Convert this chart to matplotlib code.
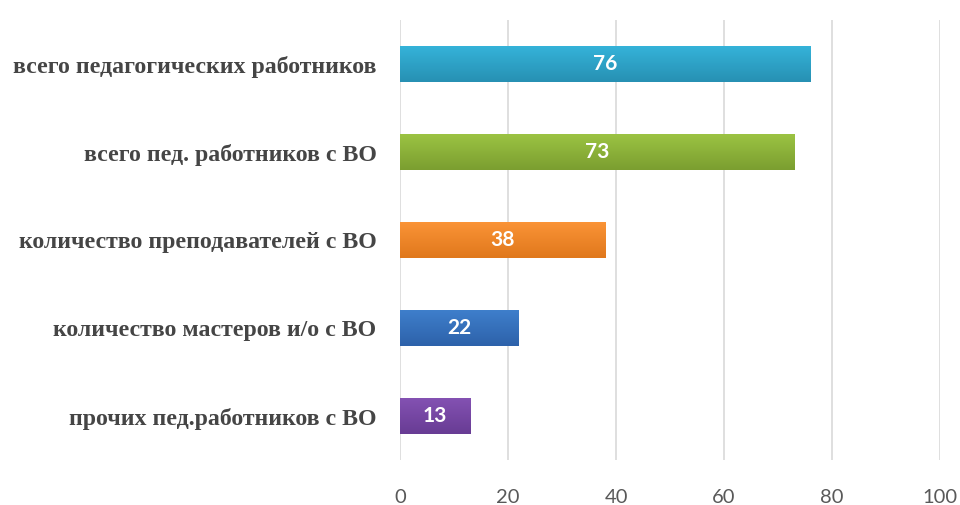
import numpy as np
import matplotlib
matplotlib.use('Agg')
import matplotlib.pyplot as plt
from matplotlib.colors import LinearSegmentedColormap

categories = ['всего педагогических работников',
              'всего пед. работников с ВО',
              'количество преподавателей с ВО',
              'количество мастеров и/о с ВО',
              'прочих пед.работников с ВО']
values = [76, 73, 38, 22, 13]
colors_top = ['#35b4da', '#9cc443', '#fb9437', '#3f7fcc', '#8452b3']
colors_bot = ['#2790b3', '#7b9e30', '#e0781c', '#2d62aa', '#683c94']
xticks = [0, 20, 40, 60, 80, 100]

fig = plt.figure(figsize=(9.6, 5.05), dpi=100)
ax = fig.add_axes([0.4167, 0.089, 0.5625, 0.871])

y = np.arange(len(categories))
h = 0.41
bars = ax.barh(y, values, height=h, color=colors_top, zorder=3)

# vertical gradient on each bar
grad = np.linspace(0, 1, 64).reshape(-1, 1)
for b, c1, c2 in zip(bars, colors_top, colors_bot):
    cmap = LinearSegmentedColormap.from_list('g', [c1, c2])
    x0, y0 = b.get_x(), b.get_y()
    im = ax.imshow(grad, cmap=cmap, aspect='auto', zorder=4,
                   extent=[x0, x0 + b.get_width(), y0 + b.get_height(), y0],
                   origin='upper')
    im.set_clip_path(b)

ax.set_xlim(0, 100)
ax.set_ylim(len(categories) - 0.5, -0.5)
ax.set_xticks(xticks)
ax.set_xticklabels([str(t) for t in xticks], fontsize=14.5, color='#595959',
                   family='Lato')
ax.set_yticks(y)
ax.set_yticklabels(categories, fontsize=17.2, fontweight='bold', color='#454545',
                   family='Liberation Serif')
ax.tick_params(axis='both', length=0)
ax.tick_params(axis='x', pad=21)
ax.tick_params(axis='y', pad=17)
ax.grid(axis='x', color='#d9d9d9', linewidth=1.2, zorder=0)
for s in ax.spines.values():
    s.set_visible(False)

for yi, v in zip(y, values):
    ax.text(v / 2, yi, str(v), ha='center', va='center', color='white',
            fontsize=15, fontweight='bold', family='Lato', zorder=5)

fig.savefig('out.png', dpi=100)
